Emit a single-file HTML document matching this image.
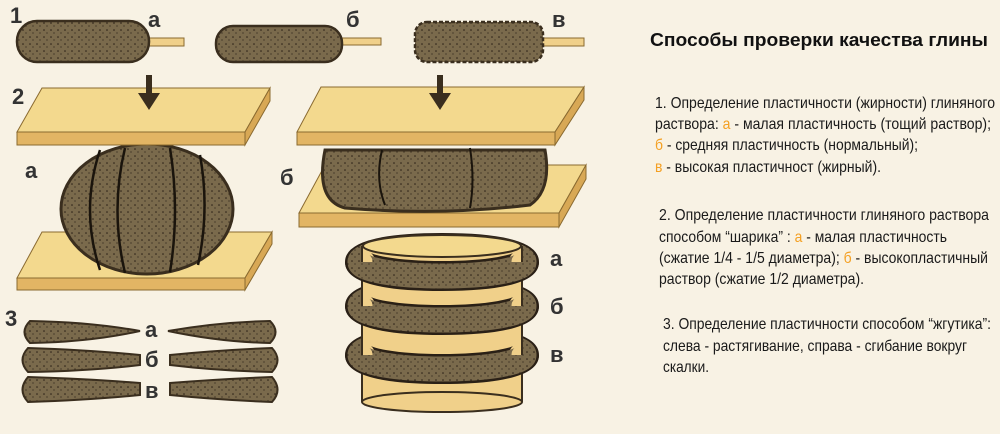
<!DOCTYPE html>
<html><head><meta charset="utf-8"><style>
html,body{margin:0;padding:0;background:#f8f2e4;}
svg{display:block}
.t{font-family:"Liberation Sans Narrow","Liberation Sans",sans-serif;font-size:16px;fill:#1a1a1a}
.o{fill:#f4a023}
.lb{font-family:"Liberation Sans",sans-serif;font-weight:bold;font-size:22px;fill:#333}
</style></head><body>
<svg width="1000" height="434" viewBox="0 0 1000 434" xmlns="http://www.w3.org/2000/svg">
<rect width="1000" height="434" fill="#f8f2e4"/>
<defs>
<pattern id="dots" width="7" height="7" patternUnits="userSpaceOnUse"><rect width="7" height="7" fill="#7a6a4c"/><circle cx="2" cy="2" r="0.8" fill="#2a2016"/><circle cx="5" cy="5" r="0.6" fill="#2a2016"/></pattern>
</defs>
<g stroke="#3a2e1e" stroke-width="2.5">
<rect x="146" y="38" width="38" height="8" fill="#f0d08a" stroke="#8a6a30" stroke-width="1"/>
<rect x="17" y="21" width="132" height="41" rx="20" fill="url(#dots)"/>
<rect x="340" y="38" width="41" height="7" fill="#f0d08a" stroke="#8a6a30" stroke-width="1"/>
<rect x="216" y="26" width="126" height="36" rx="17" fill="url(#dots)"/>
<rect x="540" y="38" width="44" height="8" fill="#f0d08a" stroke="#8a6a30" stroke-width="1"/>
<rect x="415" y="22" width="128" height="40" rx="12" fill="url(#dots)" stroke-dasharray="4 2"/>
</g>
<!-- bottom board a -->
<g stroke="#8a6a30" stroke-width="1">
<polygon points="42,232 272,232 245,278 17,278" fill="#f3d98e"/>
<polygon points="17,278 245,278 245,290 17,290" fill="#e2b564"/>
<polygon points="245,278 272,232 272,244 245,290" fill="#d8a855"/>
</g>
<ellipse cx="147" cy="209" rx="86" ry="65" fill="url(#dots)" stroke="#3a2e1e" stroke-width="3"/>
<g stroke="#1a140c" stroke-width="2.5" fill="none">
<path d="M100,150 Q80,210 100,270"/><path d="M125,148 Q110,210 125,273"/><path d="M170,148 Q180,210 170,272"/><path d="M200,155 Q210,210 198,265"/></g>
<g stroke="#8a6a30" stroke-width="1">
<polygon points="42,88 270,88 245,132 17,132" fill="#f3d98e"/>
<polygon points="17,132 245,132 245,145 17,145" fill="#e2b564"/>
<polygon points="245,132 270,88 270,101 245,145" fill="#d8a855"/>
</g>
<rect x="146" y="75" width="6" height="20" fill="#3a2e1e"/><polygon points="138,93 160,93 149,110" fill="#3a2e1e"/>
<!-- б press -->
<g stroke="#8a6a30" stroke-width="1">
<polygon points="325,165 586,165 559,213 299,213" fill="#f3d98e"/>
<polygon points="299,213 559,213 559,227 299,227" fill="#e2b564"/>
<polygon points="559,213 586,165 586,179 559,227" fill="#d8a855"/>
</g>
<path d="M325,150 Q315,200 345,208 Q440,216 530,205 Q552,190 545,150 Z" fill="url(#dots)" stroke="#3a2e1e" stroke-width="3"/>
<g stroke="#1a140c" stroke-width="2" fill="none"><path d="M382,150 Q375,180 385,205"/><path d="M470,148 Q475,180 470,208"/></g>
<g stroke="#8a6a30" stroke-width="1">
<polygon points="321,87 584,87 555,132 297,132" fill="#f3d98e"/>
<polygon points="297,132 555,132 555,145 297,145" fill="#e2b564"/>
<polygon points="555,132 584,87 584,100 555,145" fill="#d8a855"/>
</g>
<rect x="437" y="75" width="6" height="20" fill="#3a2e1e"/><polygon points="429,93 451,93 440,110" fill="#3a2e1e"/>
<!-- cylinder -->
<g fill="none">
<ellipse cx="442" cy="262" rx="82" ry="14" stroke="#2a2016" stroke-width="30"/>
<ellipse cx="442" cy="262" rx="82" ry="14" stroke="url(#dots)" stroke-width="25"/>
<ellipse cx="442" cy="306" rx="82" ry="14" stroke="#2a2016" stroke-width="30"/>
<ellipse cx="442" cy="306" rx="82" ry="14" stroke="url(#dots)" stroke-width="25"/>
<ellipse cx="442" cy="355" rx="82" ry="14" stroke="#2a2016" stroke-width="30"/>
<ellipse cx="442" cy="355" rx="82" ry="14" stroke="url(#dots)" stroke-width="25"/>
</g>
<rect x="362" y="246" width="160" height="156" fill="#f0d08a"/>
<ellipse cx="442" cy="402" rx="80" ry="10" fill="#f0d08a" stroke="#3a2e1e" stroke-width="2"/>
<line x1="362" y1="246" x2="362" y2="402" stroke="#3a2e1e" stroke-width="2"/>
<line x1="522" y1="246" x2="522" y2="402" stroke="#3a2e1e" stroke-width="2"/>
<g fill="none">
<path d="M360,262 A82,14 0 0 0 524,262" stroke="#2a2016" stroke-width="30"/>
<path d="M360,262 A82,14 0 0 0 524,262" stroke="url(#dots)" stroke-width="25"/>
<path d="M360,306 A82,14 0 0 0 524,306" stroke="#2a2016" stroke-width="30"/>
<path d="M360,306 A82,14 0 0 0 524,306" stroke="url(#dots)" stroke-width="25"/>
<path d="M360,355 A82,14 0 0 0 524,355" stroke="#2a2016" stroke-width="30"/>
<path d="M360,355 A82,14 0 0 0 524,355" stroke="url(#dots)" stroke-width="25"/>
</g>
<ellipse cx="442" cy="246" rx="79" ry="11" fill="#f3d98e" stroke="#3a2e1e" stroke-width="2"/>
<!-- row 3 -->
<g fill="url(#dots)" stroke="#3a2e1e" stroke-width="2">
<path d="M30,321 Q90,322 140,331 Q90,342 30,343 Q19,332 30,321Z"/>
<path d="M270,321 Q220,322 168,331 Q220,342 270,343 Q281,332 270,321Z"/>
<path d="M28,348 Q90,350 140,355 L140,365 Q90,371 28,372 Q17,360 28,348Z"/>
<path d="M272,348 Q220,350 170,355 L170,365 Q220,371 272,372 Q283,360 272,348Z"/>
<path d="M28,377 Q90,379 140,383 L140,395 Q90,400 28,402 Q17,390 28,377Z"/>
<path d="M272,377 Q220,379 170,383 L170,395 Q220,400 272,402 Q283,390 272,377Z"/>
</g>
<g class="lb">
<text x="10" y="23">1</text><text x="148" y="27">а</text><text x="346" y="27">б</text><text x="552" y="27">в</text>
<text x="12" y="104">2</text><text x="25" y="178">а</text><text x="280" y="185">б</text>
<text x="550" y="266">а</text><text x="550" y="314">б</text><text x="550" y="362">в</text>
<text x="5" y="326">3</text><text x="145" y="337">а</text><text x="145" y="367">б</text><text x="145" y="398">в</text>
</g>
<text x="650" y="46" textLength="338" lengthAdjust="spacingAndGlyphs" style="font-family:'Liberation Sans',sans-serif;font-weight:bold;font-size:18px;fill:#111">Способы проверки качества глины</text>
<g class="t">
<text x="655" y="108" textLength="340" lengthAdjust="spacingAndGlyphs">1. Определение пластичности (жирности) глиняного</text>
<text x="655" y="129" textLength="336" lengthAdjust="spacingAndGlyphs">раствора: <tspan class="o">а</tspan> - малая пластичность (тощий раствор);</text>
<text x="655" y="150" textLength="263" lengthAdjust="spacingAndGlyphs"><tspan class="o">б</tspan> - средняя пластичность (нормальный);</text>
<text x="655" y="172" textLength="226" lengthAdjust="spacingAndGlyphs"><tspan class="o">в</tspan> - высокая пластичност (жирный).</text>
<text x="659" y="220" textLength="330" lengthAdjust="spacingAndGlyphs">2. Определение пластичности глиняного раствора</text>
<text x="659" y="242" textLength="288" lengthAdjust="spacingAndGlyphs">способом “шарика” : <tspan class="o">а</tspan> - малая пластичность</text>
<text x="659" y="263" textLength="329" lengthAdjust="spacingAndGlyphs">(сжатие 1/4 - 1/5 диаметра); <tspan class="o">б</tspan> - высокопластичный</text>
<text x="659" y="284" textLength="205" lengthAdjust="spacingAndGlyphs">раствор (сжатие 1/2 диаметра).</text>
<text x="663" y="329" textLength="328" lengthAdjust="spacingAndGlyphs">3. Определение пластичности способом “жгутика”:</text>
<text x="663" y="351" textLength="304" lengthAdjust="spacingAndGlyphs">слева - растягивание, справа - сгибание вокруг</text>
<text x="663" y="372" textLength="46" lengthAdjust="spacingAndGlyphs">скалки.</text>
</g>
</svg>
</body></html>
